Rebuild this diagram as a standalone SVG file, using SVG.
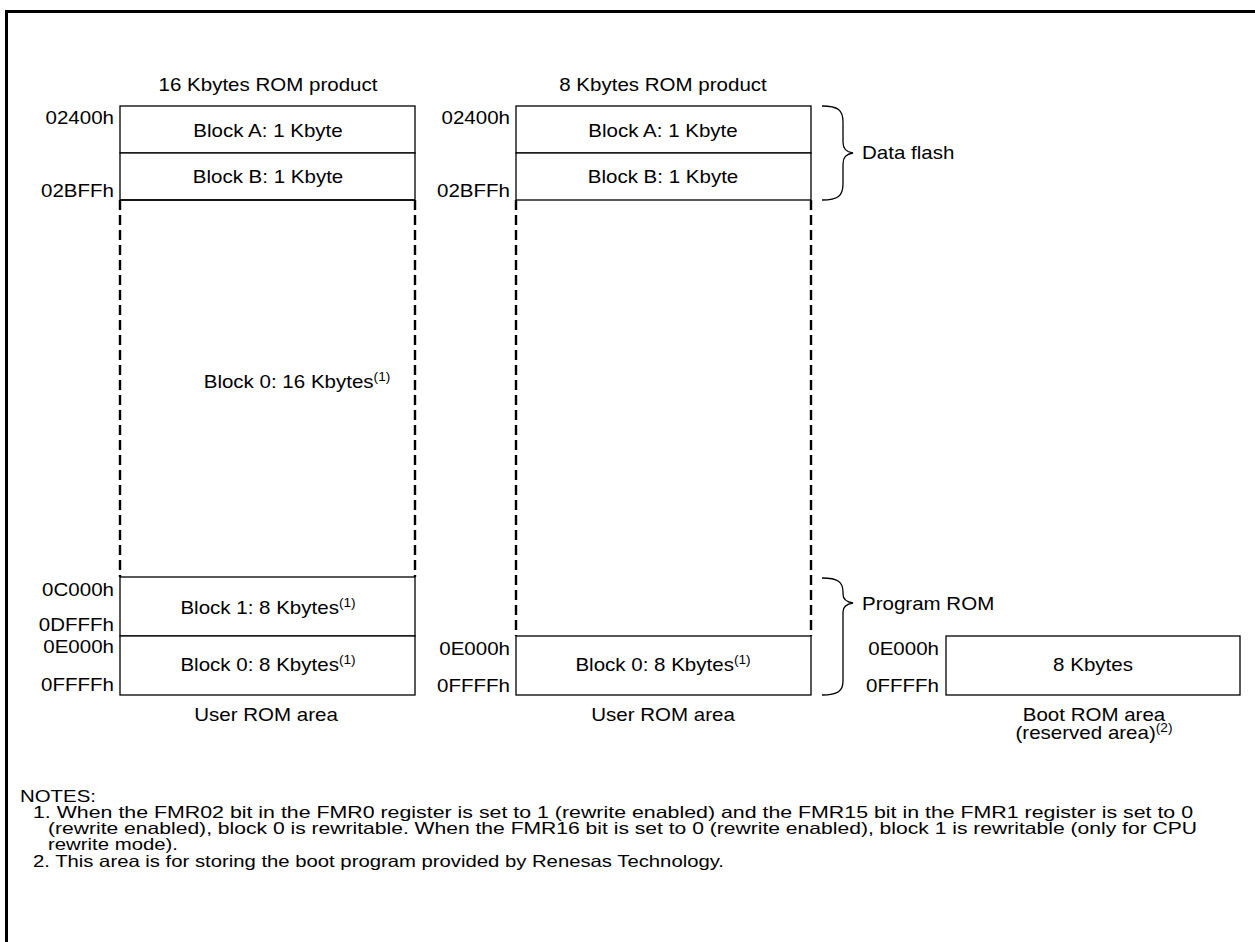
<svg xmlns="http://www.w3.org/2000/svg" width="1255" height="942" viewBox="0 0 1255 942">
<style>
text{font-family:"Liberation Sans",Arial,sans-serif;font-size:18px;fill:#000}
.c{text-anchor:middle}
.r{text-anchor:end}
.sup{font-size:12px}
.n{font-size:16.5px}
.box{fill:#fff;stroke:#000;stroke-width:1.3}
.dash{stroke:#000;stroke-width:2.4;stroke-dasharray:10 5;fill:none}
.brace{fill:none;stroke:#000;stroke-width:1.3}
</style>
<rect width="1255" height="942" fill="#fff"/>
<path d="M6.5 942 V11.5 H1255" fill="none" stroke="#000" stroke-width="3"/>

<g id="col16">
<text class="c" transform="matrix(1.14 0 0 1 268 91)">16 Kbytes ROM product</text>
<g id="blockA16"><rect class="box" x="120" y="106" width="295" height="47"/><text class="c" transform="matrix(1.14 0 0 1 268 137)">Block A: 1 Kbyte</text></g>
<g id="blockB16"><rect class="box" x="120" y="153" width="295" height="47"/><text class="c" transform="matrix(1.14 0 0 1 268 183)">Block B: 1 Kbyte</text></g>
<g id="block0_16"><path class="dash" d="M120 200 V577 M415 200 V577"/><line x1="120" y1="200" x2="415" y2="200" stroke="#000" stroke-width="1.3"/><text class="c" transform="matrix(1.14 0 0 1 297 388)">Block 0: 16 Kbytes<tspan class="sup" dy="-7">(1)</tspan></text></g>
<g id="block1_16"><rect class="box" x="120" y="577" width="295" height="59"/><text class="c" transform="matrix(1.14 0 0 1 268 614)">Block 1: 8 Kbytes<tspan class="sup" dy="-7">(1)</tspan></text></g>
<g id="block0b_16"><rect class="box" x="120" y="636" width="295" height="59"/><text class="c" transform="matrix(1.14 0 0 1 268 671)">Block 0: 8 Kbytes<tspan class="sup" dy="-7">(1)</tspan></text></g>
<text class="r" transform="matrix(1.14 0 0 1 114 124)">02400h</text>
<text class="r" transform="matrix(1.14 0 0 1 114 197)">02BFFh</text>
<text class="r" transform="matrix(1.14 0 0 1 114 596)">0C000h</text>
<text class="r" transform="matrix(1.14 0 0 1 114 631)">0DFFFh</text>
<text class="r" transform="matrix(1.14 0 0 1 114 653)">0E000h</text>
<text class="r" transform="matrix(1.14 0 0 1 114 691)">0FFFFh</text>
<text class="c" transform="matrix(1.14 0 0 1 266 721)">User ROM area</text>
</g>

<g id="col8">
<text class="c" transform="matrix(1.14 0 0 1 663 91)">8 Kbytes ROM product</text>
<g id="blockA8"><rect class="box" x="516" y="106" width="295" height="47"/><text class="c" transform="matrix(1.14 0 0 1 663 137)">Block A: 1 Kbyte</text></g>
<g id="blockB8"><rect class="box" x="516" y="153" width="295" height="47"/><text class="c" transform="matrix(1.14 0 0 1 663 183)">Block B: 1 Kbyte</text></g>
<g id="unused8"><path class="dash" d="M516 200 V636 M811 200 V636"/></g>
<g id="block0_8"><rect class="box" x="516" y="636" width="295" height="59"/><text class="c" transform="matrix(1.14 0 0 1 663 671)">Block 0: 8 Kbytes<tspan class="sup" dy="-7">(1)</tspan></text></g>
<text class="r" transform="matrix(1.14 0 0 1 510 124)">02400h</text>
<text class="r" transform="matrix(1.14 0 0 1 510 197)">02BFFh</text>
<text class="r" transform="matrix(1.14 0 0 1 510 655)">0E000h</text>
<text class="r" transform="matrix(1.14 0 0 1 510 692)">0FFFFh</text>
<text class="c" transform="matrix(1.14 0 0 1 663 721)">User ROM area</text>
</g>

<g id="boot">
<rect class="box" x="946" y="636" width="294" height="59"/>
<text class="c" transform="matrix(1.14 0 0 1 1093 671)">8 Kbytes</text>
<text class="r" transform="matrix(1.14 0 0 1 939 655)">0E000h</text>
<text class="r" transform="matrix(1.14 0 0 1 939 692)">0FFFFh</text>
<text class="c" transform="matrix(1.14 0 0 1 1094 721)">Boot ROM area</text>
<text class="c" transform="matrix(1.14 0 0 1 1094 739)">(reserved area)<tspan class="sup" dy="-7">(2)</tspan></text>
</g>

<g id="connectors">
<path class="brace" d="M822 106 C838 106 843 110 843 122 V142 C843 149 846 152 853 153 C846 154 843 157 843 164 V184 C843 196 838 200 822 200"/>
<path class="brace" d="M822 578 C838 578 843 582 843 592 V594 C843 599 846 602 853 603 C846 604 843 607 843 612 V681 C843 691 838 695 822 695"/>
</g>
<g id="labels">
<text transform="matrix(1.14 0 0 1 862 159)">Data flash</text>
<text transform="matrix(1.14 0 0 1 862 610)">Program ROM</text>
</g>

<g id="notes">
<text class="n" x="20" y="802" textLength="76" lengthAdjust="spacingAndGlyphs">NOTES:</text>
<text class="n" x="33" y="818" textLength="1160" lengthAdjust="spacingAndGlyphs">1. When the FMR02 bit in the FMR0 register is set to 1 (rewrite enabled) and the FMR15 bit in the FMR1 register is set to 0</text>
<text class="n" x="48" y="834" textLength="1149" lengthAdjust="spacingAndGlyphs">(rewrite enabled), block 0 is rewritable. When the FMR16 bit is set to 0 (rewrite enabled), block 1 is rewritable (only for CPU</text>
<text class="n" x="48" y="850" textLength="130" lengthAdjust="spacingAndGlyphs">rewrite mode).</text>
<text class="n" x="33" y="867" textLength="691" lengthAdjust="spacingAndGlyphs">2. This area is for storing the boot program provided by Renesas Technology.</text>
</g>
</svg>
